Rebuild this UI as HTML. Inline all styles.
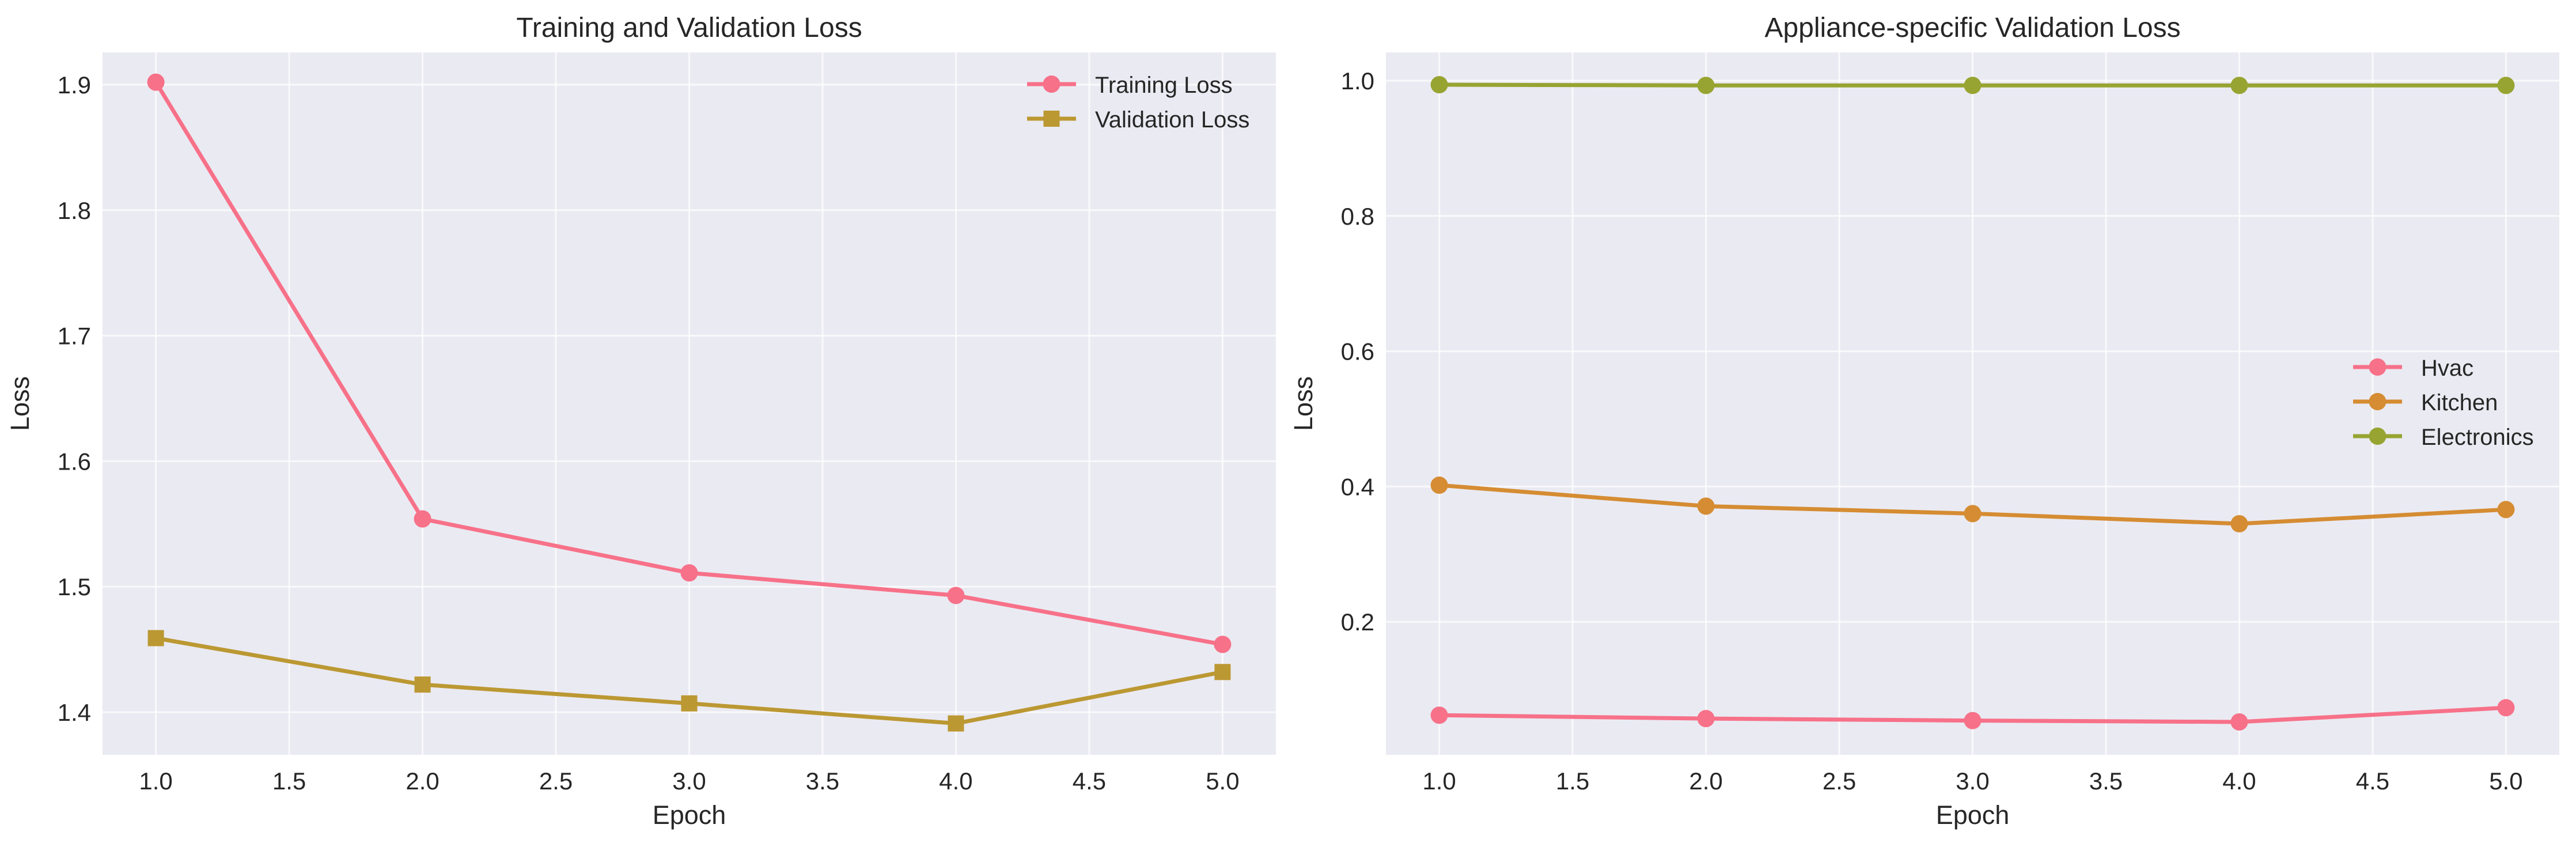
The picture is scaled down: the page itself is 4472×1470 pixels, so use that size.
<!DOCTYPE html>
<html><head><meta charset="utf-8">
<style>
html,body{margin:0;padding:0;background:#fff;}
svg{display:block;font-family:"Liberation Sans",Arial,sans-serif;}
</style></head>
<body>
<svg id="fig" width="4472" height="1470" viewBox="0 0 4472 1470" xmlns="http://www.w3.org/2000/svg"></svg>
<script>
const epochs = [1, 2, 3, 4, 5];
const trainLoss = [1.902, 1.554, 1.511, 1.493, 1.454];
const valLoss = [1.459, 1.422, 1.407, 1.391, 1.432];
const hvacLoss = [0.062, 0.057, 0.054, 0.052, 0.073];
const kitchenLoss = [0.402, 0.371, 0.360, 0.345, 0.366];
const electronicsLoss = [0.994, 0.993, 0.993, 0.993, 0.993];
const xTicks = [1.0, 1.5, 2.0, 2.5, 3.0, 3.5, 4.0, 4.5, 5.0];
const yTicksLeft = [1.4, 1.5, 1.6, 1.7, 1.8, 1.9];
const yTicksRight = [0.2, 0.4, 0.6, 0.8, 1.0];

const NS = "http://www.w3.org/2000/svg";
const svg = document.getElementById('fig');
function mk(tag, attrs, parent, text) {
  const e = document.createElementNS(NS, tag);
  for (const k in attrs) e.setAttribute(k, attrs[k]);
  if (text !== undefined) e.textContent = text;
  (parent || svg).appendChild(e);
  return e;
}

function panel(opt) {
  const g = mk('g', {});
  
  
  const L = opt.left, R = opt.left + 2037, T = 91, B = 1310;
  const xs = v => L + (v - 0.8) / 4.4 * (R - L);
  const ys = opt.ys;
  const bg = mk('rect', {x: L, y: T, width: R - L, height: B - T, fill: '#eaeaf2'}, g);
  
  
  xTicks.forEach(t => {
    const x = xs(t);
    mk('line', {x1: x, x2: x, y1: T, y2: B, stroke: '#fff', 'stroke-width': 3, opacity: 0.75}, g);
    const lbl = mk('text', {x: x, y: 1370, 'font-size': 42, fill: '#262626', 'text-anchor': 'middle'}, g, t.toFixed(1));
    
    
  });
  opt.yTicks.forEach(t => {
    const y = ys(t);
    mk('line', {x1: L, x2: R, y1: y, y2: y, stroke: '#fff', 'stroke-width': 3, opacity: 0.75}, g);
    const lbl = mk('text', {x: L - 20, y: y + 15, 'font-size': 42, fill: '#262626', 'text-anchor': 'end'}, g, t.toFixed(1));
    
    
  });
  const title = mk('text', {x: (L + R) / 2, y: 64, 'font-size': 48, fill: '#262626', 'text-anchor': 'middle'}, g, opt.title);
  
  
  const xl = mk('text', {x: (L + R) / 2, y: 1430, 'font-size': 45, fill: '#262626', 'text-anchor': 'middle'}, g, 'Epoch');
  
  
  const yx = L - 128;
  const yl = mk('text', {x: yx, y: (T + B) / 2, 'font-size': 45, fill: '#262626', 'text-anchor': 'middle', transform: `rotate(-90 ${yx} ${(T + B) / 2})`}, g, 'Loss');
  
  

  opt.series.forEach(s => {
    const sg = mk('g', {}, g);
    
    
    const pts = epochs.map((e, i) => xs(e) + ',' + ys(s.data[i])).join(' ');
    mk('polyline', {points: pts, fill: 'none', stroke: s.color, 'stroke-width': 7, 'stroke-linejoin': 'round'}, sg);
    epochs.forEach((e, i) => {
      const cx = xs(e), cy = ys(s.data[i]);
      let m;
      if (s.marker === 'square') m = mk('rect', {x: cx - 14, y: cy - 14, width: 28, height: 28, fill: s.color}, sg);
      else m = mk('circle', {cx: cx, cy: cy, r: 15, fill: s.color}, sg);
      
      
    });
  });

  const lg = mk('g', {}, g);
  
  
  opt.series.forEach((s, i) => {
    const y = opt.legY + i * opt.legStep;
    const eg = mk('g', {}, lg);
    
    
    mk('line', {x1: opt.legX, x2: opt.legX + 85, y1: y, y2: y, stroke: s.color, 'stroke-width': 7}, eg);
    if (s.marker === 'square') mk('rect', {x: opt.legX + 28.5, y: y - 14, width: 28, height: 28, fill: s.color}, eg);
    else mk('circle', {cx: opt.legX + 42.5, cy: y, r: 15, fill: s.color}, eg);
    mk('text', {x: opt.legX + 118, y: y + 15, 'font-size': 40, fill: '#262626'}, eg, s.label);
  });
}

panel({
  name: 'training-validation-loss-chart', left: 178, title: 'Training and Validation Loss',
  ys: v => 1236 - (v - 1.4) / 0.1 * 217.8,
  yTicks: yTicksLeft,
  series: [
    {key: 'training-loss', label: 'Training Loss', data: trainLoss, color: '#f77189', marker: 'circle'},
    {key: 'validation-loss', label: 'Validation Loss', data: valLoss, color: '#bb9832', marker: 'square'}
  ],
  legX: 1783, legY: 146, legStep: 60
});
panel({
  name: 'appliance-validation-loss-chart', left: 2406, title: 'Appliance-specific Validation Loss',
  ys: v => 140 + (1.0 - v) / 0.2 * 234.8,
  yTicks: yTicksRight,
  series: [
    {key: 'hvac', label: 'Hvac', data: hvacLoss, color: '#f77189', marker: 'circle'},
    {key: 'kitchen', label: 'Kitchen', data: kitchenLoss, color: '#d58c32', marker: 'circle'},
    {key: 'electronics', label: 'Electronics', data: electronicsLoss, color: '#97a431', marker: 'circle'}
  ],
  legX: 4085, legY: 637, legStep: 60
});
</script>
</body></html>
